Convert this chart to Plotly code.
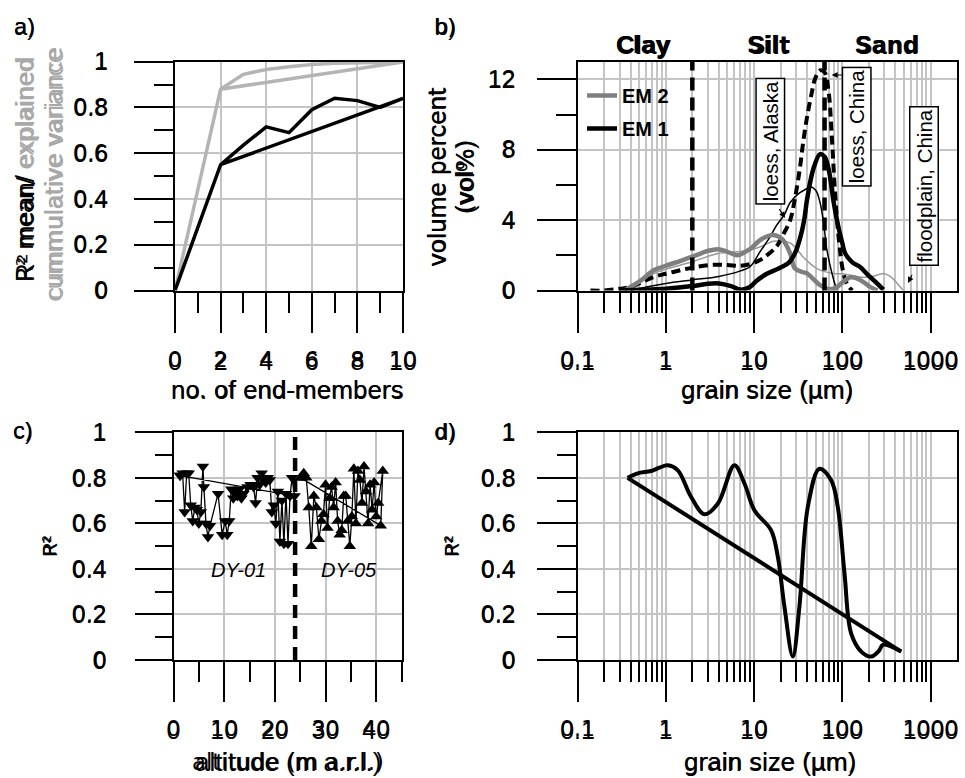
import plotly.graph_objects as go

W, H = 965, 778
def fx(p): return p / W
def fy(p): return 1 - p / H

FONT = "Liberation Sans"
GHOST = "DejaVu Sans"

# ---------------- data ----------------
# a) end-member model diagnostics
n_em = [0, 2, 3, 4, 5, 6, 7, 8, 9, 10]
r2_mean = [0.0, 0.55, 0.635, 0.715, 0.69, 0.79, 0.84, 0.83, 0.80, 0.84]
expl_var = [0.0, 0.88, 0.945, 0.966, 0.978, 0.988, 0.993, 0.996, 0.997, 0.999]

# b) grain-size distributions (µm, vol%)
gs_em2 = [0.34, 0.5, 0.74, 1.0, 1.5, 2.0, 3.0, 3.9, 5.0, 6.5, 8.0, 9.3, 12, 16.6, 21, 25.7, 29, 35, 40, 48, 56, 70, 85, 100, 125, 160, 200, 250]
em2 = [0.0, 0.5, 1.16, 1.4, 1.7, 1.92, 2.25, 2.35, 2.2, 2.0, 2.2, 2.4, 2.9, 3.15, 2.9, 2.1, 1.26, 1.05, 0.97, 0.6, 0.3, 0.08, 0.15, 0.45, 0.75, 0.6, 0.25, 0.0]

gs_em1 = [0.3, 0.6, 1.0, 2.0, 3.0, 4.0, 5.5, 7.0, 9.0, 10.7, 14, 19, 25, 29, 33, 37, 40, 47, 56, 63, 70, 80, 87, 100, 108, 130, 158, 190, 225, 260, 293]
em1 = [0.0, 0.05, 0.1, 0.25, 0.38, 0.4, 0.25, 0.05, 0.2, 0.55, 0.95, 1.25, 1.6, 2.1, 2.9, 4.0, 5.2, 6.9, 7.75, 7.6, 6.9, 5.0, 4.0, 2.7, 2.1, 1.6, 1.35, 0.95, 0.6, 0.3, 0.05]

gs_loess_china = [0.14, 0.2, 0.3, 0.4, 0.74, 1.0, 1.5, 2.0, 3.2, 5.0, 6.9, 9.0, 11.7, 14, 18, 21, 25.7, 29, 33, 36, 40, 45, 49, 56, 63, 70, 76, 83, 91, 103, 115, 130]
loess_china = [0.0, 0.0, 0.1, 0.2, 0.78, 0.95, 1.16, 1.3, 1.45, 1.45, 1.4, 1.5, 1.73, 2.0, 2.5, 3.1, 4.0, 5.2, 6.9, 8.4, 9.9, 11.2, 12.0, 12.5, 12.4, 11.3, 8.8, 5.5, 3.0, 1.0, 0.3, 0.0]

gs_loess_alaska = [0.4, 0.6, 1.0, 2.0, 4.0, 6.9, 9.0, 11.7, 15, 18, 22, 25.7, 32, 40, 43, 50, 56, 62, 66, 73, 80, 87]
loess_alaska = [0.0, 0.2, 0.4, 0.6, 0.8, 1.1, 1.35, 2.2, 3.0, 3.7, 4.3, 5.0, 5.5, 5.8, 5.9, 5.7, 5.0, 3.7, 2.5, 1.4, 0.6, 0.0]

gs_floodplain = [0.35, 0.5, 0.74, 1.0, 2.0, 3.9, 6.5, 9.0, 12, 16.6, 20, 25.7, 30, 36, 44, 51, 60, 80, 100, 131, 170, 220, 293, 350, 420, 490]
floodplain = [0.0, 0.45, 0.97, 1.2, 1.63, 2.1, 2.2, 2.3, 2.5, 2.8, 2.8, 2.7, 2.4, 1.9, 1.5, 1.26, 1.1, 0.97, 0.95, 0.85, 0.75, 0.8, 0.97, 0.8, 0.4, 0.0]

class_bounds = [2, 63]
class_names = ["Clay", "Silt", "Sand"]

# c) R² per sample vs altitude
alt_dy01 = [1.3, 1.8, 2.2, 2.6, 3.0, 3.4, 3.8, 4.2, 4.6, 5.0, 5.4, 5.8, 6.0, 6.4, 6.8, 7.2, 8.8, 9.6, 10.2, 10.6, 11.0, 11.4, 11.8, 12.2, 12.6, 13.0, 13.4, 13.8, 14.6, 15.2, 15.8, 16.2, 16.6, 17.0, 17.4, 17.8, 18.2, 18.6, 19.0, 19.4, 19.8, 20.2, 20.6, 21.0, 21.4, 21.8, 22.2, 22.6, 23.0, 23.4, 23.9]
r2_dy01 = [0.81, 0.82, 0.65, 0.82, 0.82, 0.68, 0.61, 0.67, 0.66, 0.60, 0.65, 0.85, 0.76, 0.60, 0.54, 0.59, 0.73, 0.55, 0.61, 0.55, 0.61, 0.75, 0.71, 0.74, 0.72, 0.75, 0.71, 0.73, 0.76, 0.77, 0.76, 0.69, 0.80, 0.77, 0.82, 0.80, 0.78, 0.80, 0.79, 0.65, 0.68, 0.60, 0.74, 0.52, 0.70, 0.51, 0.73, 0.51, 0.72, 0.80, 0.72]
alt_dy05 = [25.1, 25.7, 26.2, 26.7, 27.2, 27.7, 28.2, 28.7, 29.2, 29.6, 30.0, 30.4, 30.8, 31.2, 31.6, 32.0, 32.4, 32.8, 33.2, 33.6, 34.0, 34.4, 34.8, 35.2, 35.6, 36.0, 36.4, 36.8, 37.2, 37.6, 38.0, 38.4, 38.8, 39.2, 39.6, 40.0, 40.4, 41.3, 40.9]
r2_dy05 = [0.80, 0.82, 0.80, 0.67, 0.50, 0.72, 0.67, 0.53, 0.61, 0.64, 0.77, 0.58, 0.71, 0.76, 0.67, 0.78, 0.61, 0.55, 0.57, 0.72, 0.72, 0.61, 0.50, 0.63, 0.84, 0.60, 0.83, 0.79, 0.69, 0.85, 0.74, 0.60, 0.77, 0.66, 0.78, 0.63, 0.69, 0.83, 0.59]
section_boundary = 24
section_names = ["DY-01", "DY-05"]

# d) R² per grain-size class
gs_d = [0.37, 0.48, 0.68, 0.85, 1.05, 1.37, 1.94, 2.74, 3.9, 6.0, 7.8, 10.1, 15.6, 18.6, 22.1, 27.5, 32.7, 40.7, 55.2, 74.9, 89, 106, 126, 164, 213, 260, 290, 465]
r2_d = [0.80, 0.82, 0.83, 0.845, 0.855, 0.833, 0.716, 0.64, 0.687, 0.855, 0.775, 0.658, 0.57, 0.454, 0.235, 0.015, 0.235, 0.672, 0.84, 0.789, 0.672, 0.38, 0.117, 0.037, 0.015, 0.04, 0.067, 0.037]

# tick definitions
a_xticks = [0, 2, 4, 6, 8, 10]
a_xminor = [1, 3, 5, 7, 9]
r_ticks = [0, 0.2, 0.4, 0.6, 0.8, 1]
r_minor = [0.1, 0.3, 0.5, 0.7, 0.9]
gs_ticks = [0.1, 1, 10, 100, 1000]
gs_ticktext = ["0.1", "1", "10", "100", "1000"]
gs_minor = [m * 10.0 ** k for k in range(-1, 3) for m in range(2, 10)] + [2000]
vol_ticks = [0, 4, 8, 12]
vol_minor = [2, 6, 10]
alt_ticks = [0, 10, 20, 30, 40]
alt_minor = [5, 15, 25, 35, 45]

# ---------------- figure ----------------
fig = go.Figure()
BLK = "black"
GRID = "#c4c4c4"

# a
fig.add_trace(go.Scatter(x=n_em + [n_em[1]], y=expl_var + [expl_var[1]], mode="lines",
                         line=dict(color="#b4b4b4", width=3.5), xaxis="x", yaxis="y", showlegend=False))
fig.add_trace(go.Scatter(x=n_em + [n_em[1]], y=r2_mean + [r2_mean[1]], mode="lines",
                         line=dict(color=BLK, width=3.5), xaxis="x", yaxis="y", showlegend=False))

# b
fig.add_trace(go.Scatter(x=gs_floodplain, y=floodplain, mode="lines", line=dict(color="#9a9a9a", width=1.5, shape="spline"),
                         xaxis="x2", yaxis="y2", showlegend=False))
fig.add_trace(go.Scatter(x=gs_loess_alaska, y=loess_alaska, mode="lines", line=dict(color=BLK, width=1.5, shape="spline"),
                         xaxis="x2", yaxis="y2", showlegend=False))
fig.add_trace(go.Scatter(x=gs_loess_china, y=loess_china, mode="lines", line=dict(color=BLK, width=4, dash="9px,5px", shape="spline"),
                         xaxis="x2", yaxis="y2", showlegend=False))
fig.add_trace(go.Scatter(x=gs_em2, y=em2, mode="lines", name="<b>EM 2</b>", legendgroup="g2",
                         line=dict(color="#7f7f7f", width=4.5, shape="spline"), xaxis="x2", yaxis="y2"))
fig.add_trace(go.Scatter(x=gs_em1, y=em1, mode="lines", name="<b>EM 1</b>", legendgroup="g1",
                         line=dict(color=BLK, width=4.5, shape="spline"), xaxis="x2", yaxis="y2"))

# c
fig.add_trace(go.Scatter(x=alt_dy01 + [alt_dy01[0]], y=r2_dy01 + [r2_dy01[0]], mode="lines+markers",
                         line=dict(color=BLK, width=1.3), marker=dict(symbol="triangle-down", size=11, color=BLK),
                         xaxis="x3", yaxis="y3", showlegend=False))
fig.add_trace(go.Scatter(x=alt_dy05 + [alt_dy05[0]], y=r2_dy05 + [r2_dy05[0]], mode="lines+markers",
                         line=dict(color=BLK, width=1.3), marker=dict(symbol="triangle-up", size=11, color=BLK),
                         xaxis="x3", yaxis="y3", showlegend=False))

# d
fig.add_trace(go.Scatter(x=gs_d, y=r2_d, mode="lines", line=dict(color=BLK, width=4, shape="spline"),
                         xaxis="x4", yaxis="y4", showlegend=False))
fig.add_trace(go.Scatter(x=[gs_d[-1], gs_d[0]], y=[r2_d[-1], r2_d[0]], mode="lines", line=dict(color=BLK, width=4),
                         xaxis="x4", yaxis="y4", showlegend=False))

# empty traces so the ghost (overlay) label axes get drawn
for i in range(5, 9):
    fig.add_trace(go.Scatter(x=[None], y=[None], xaxis="x%d" % i, yaxis="y%d" % i,
                             showlegend=False, hoverinfo="skip"))


def axis(domain, anchor, rng, tickvals, ticklen, minor_vals, minor_len, **kw):
    d = dict(domain=domain, anchor=anchor, range=rng, showline=True, linecolor=BLK, linewidth=2, mirror=True,
             ticks="outside", tickcolor=BLK, tickwidth=2, ticklen=ticklen, tickvals=tickvals,
             showgrid=True, gridcolor=GRID, gridwidth=1.5, zeroline=False, automargin=False,
             tickfont=dict(family=FONT, size=25, color=BLK),
             minor=dict(tickmode="array", tickvals=minor_vals, ticklen=minor_len, tickwidth=2, tickcolor=BLK,
                        ticks="outside", showgrid=False))
    d.update(kw)
    return d


def ghost(over, anchor, rng, tickvals, ticklen, standoff, **kw):
    d = dict(overlaying=over, anchor=anchor, range=rng, tickvals=tickvals, showline=False, showgrid=False,
             zeroline=False, automargin=False, ticks="outside", ticklen=ticklen, tickcolor="rgba(0,0,0,0)",
             tickfont=dict(family=GHOST, size=22, color=BLK), ticklabelstandoff=standoff)
    d.update(kw)
    return d

AX_A = [fx(175), fx(403)]
AX_B = [fx(577.5), fx(957)]
AX_C = [fx(173.5), fx(401.5)]
TOP = [fy(290.5), fy(61.7)]
BOT = [fy(660), fy(432.3)]

XS = 7   # x tick label standoff
fig.update_layout(
    xaxis=axis(AX_A, "y", [0, 10], a_xticks, 40, a_xminor, 20, ticklabelstandoff=XS),
    yaxis=axis(TOP, "x", [0, 1], r_ticks, 39, r_minor, 19, ticklabelstandoff=21),
    xaxis2=axis(AX_B, "y2", [-1, 3.3], gs_ticks, 40, gs_minor, 20, type="log", ticktext=gs_ticktext, ticklabelstandoff=XS),
    yaxis2=axis(TOP, "x2", [0, 13], vol_ticks, 39, vol_minor, 20, ticklabelstandoff=16),
    xaxis3=axis(AX_C, "y3", [0, 45], alt_ticks, 40, alt_minor, 20, ticklabelstandoff=XS),
    yaxis3=axis(BOT, "x3", [0, 1], r_ticks, 37, r_minor, 17, ticklabelstandoff=23),
    xaxis4=axis(AX_B, "y4", [-1, 3.3], gs_ticks, 40, gs_minor, 20, type="log", ticktext=gs_ticktext, ticklabelstandoff=XS),
    yaxis4=axis(BOT, "x4", [0, 1], r_ticks, 39, r_minor, 19, ticklabelstandoff=16),
    # ghost label axes (the reference's tick labels are double-printed)
    xaxis5=ghost("x", "y", [0, 10], a_xticks, 40, XS + 2),
    yaxis5=ghost("y", "x", [0, 1], r_ticks, 39, 22),
    xaxis6=ghost("x2", "y2", [-1, 3.3], gs_ticks, 40, XS + 2, type="log", ticktext=gs_ticktext),
    yaxis6=ghost("y2", "x2", [0, 13], vol_ticks, 39, 17),
    xaxis7=ghost("x3", "y3", [0, 45], alt_ticks, 40, XS + 2),
    yaxis7=ghost("y3", "x3", [0, 1], r_ticks, 37, 24),
    xaxis8=ghost("x4", "y4", [-1, 3.3], gs_ticks, 40, XS + 2, type="log", ticktext=gs_ticktext),
    yaxis8=ghost("y4", "x4", [0, 1], r_ticks, 39, 17),
)
for ax in (fig.layout.xaxis2, fig.layout.xaxis4):
    ax.minor.showgrid = True
    ax.minor.gridcolor = GRID
    ax.minor.gridwidth = 1.5

# boundaries
for b in class_bounds:
    fig.add_shape(type="line", xref="x2", yref="y2 domain", x0=b, x1=b, y0=0, y1=1,
                  line=dict(color=BLK, width=4.5, dash="13px,7px"))
fig.add_shape(type="line", xref="x3", yref="y3 domain", x0=section_boundary, x1=section_boundary, y0=0, y1=1,
              line=dict(color=BLK, width=4.5, dash="13px,8px"))

ann = []
def txt(x, y, s, size=26, color=BLK, angle=0, double=True, **kw):
    a = dict(x=fx(x), y=fy(y), xref="paper", yref="paper", text=s, showarrow=False, textangle=angle,
             font=dict(family=FONT, size=size, color=color), xanchor="center", yanchor="middle")
    a.update(kw)
    ann.append(a)
    if double:
        g = dict(a)
        g["font"] = dict(family=GHOST, size=size * 0.88, color=color)
        ann.append(g)

# panel labels
for lab, x, y in [("a)", 24, 27), ("b)", 445, 27), ("c)", 23, 430), ("d)", 445, 431)]:
    txt(x, y, lab, size=24)

# axis titles
txt(287, 390, "no. of end-members")
txt(767, 390, "grain size (µm)")
txt(288, 762, "altitude (m a.r.l.)")
txt(770, 762, "grain size (µm)")
txt(25, 170, "R² mean/ <span style='color:#a8a8a8'>explained</span>", angle=-90)
txt(54, 175, "cummulative variance", color="#a8a8a8", angle=-90)
txt(437, 177, "volume percent", angle=-90)
txt(465, 177, "(vol%)", angle=-90)
txt(50, 547, "R²", size=20, angle=-90)
txt(452, 547, "R²", size=20, angle=-90)

# class labels
for name, x in zip(class_names, [643, 768, 887]):
    txt(x, 45, "<b>" + name + "</b>")

# section labels
for name, x in zip(section_names, [238, 349]):
    txt(x, 570, "<i>" + name + "</i>", size=20, double=False)

# boxed sample labels
for s, x, y in [("loess, Alaska", 770, 141.7), ("loess, China", 856.7, 127), ("floodplain, China", 924, 186)]:
    txt(x, y, s, size=20.5, angle=-90, double=False, bordercolor=BLK, borderwidth=1.5, borderpad=2, bgcolor="white")

# arrows
for (tx, ty, axx, ayy) in [(785, 218, -7, -11), (831.7, 75, 13, 0), (908, 283, 5, -10)]:
    ann.append(dict(x=fx(tx), y=fy(ty), xref="paper", yref="paper", text=" ", showarrow=True,
                    ax=axx, ay=ayy, arrowhead=2, arrowsize=1, arrowwidth=1.2, arrowcolor=BLK,
                    font=dict(size=1)))

fig.update_layout(
    annotations=ann,
    width=W, height=H, margin=dict(l=0, r=0, t=0, b=0, autoexpand=False),
    paper_bgcolor="white", plot_bgcolor="white",
    font=dict(family=FONT, color=BLK),
    legend=dict(x=fx(582), y=fy(76), xanchor="left", yanchor="top", bgcolor="rgba(0,0,0,0)",
                font=dict(family=FONT, size=20, color=BLK), tracegroupgap=4, traceorder="reversed+grouped"),
)

fig.write_html("out.html", config={"displayModeBar": False},
               post_script="document.body.style.margin='0px';document.body.style.overflow='hidden';")
